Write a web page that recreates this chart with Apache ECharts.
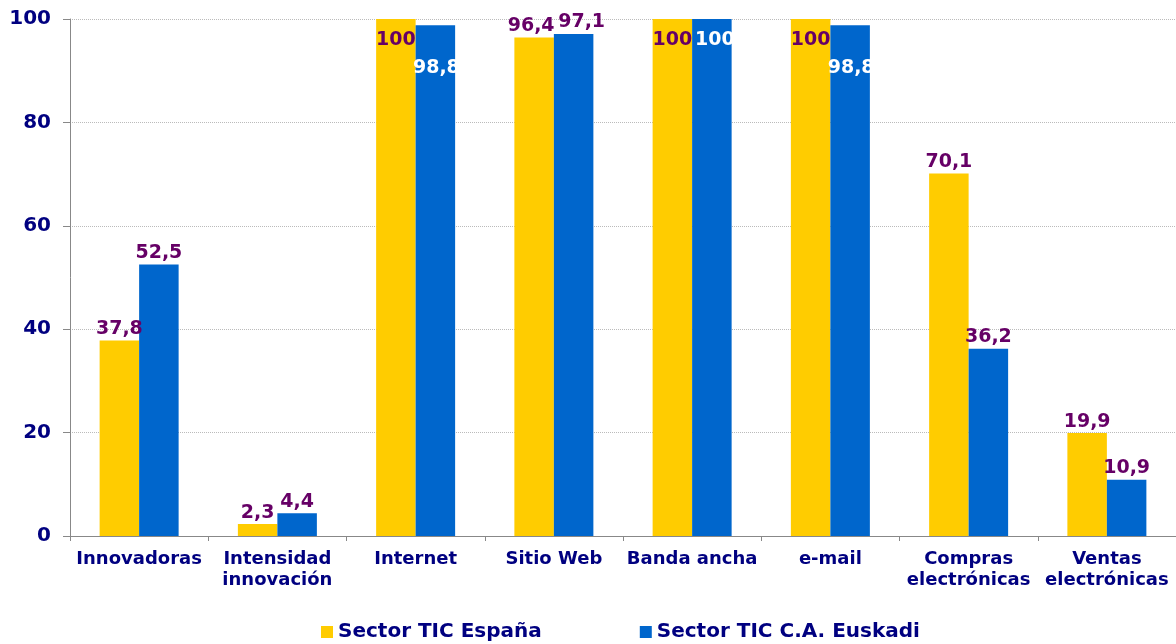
<!DOCTYPE html>
<html><head><meta charset="utf-8">
<script src="https://cdn.jsdelivr.net/npm/echarts@6/dist/echarts.min.js"></script>
<style>html,body{margin:0;padding:0;background:#fff}#c{width:1176px;height:644px}</style>
</head><body><div id="c"></div>
<script>
const categories = ['Innovadoras','Intensidad\ninnovación','Internet','Sitio Web','Banda ancha','e-mail','Compras\nelectrónicas','Ventas\nelectrónicas'];
const seriesNames = ['Sector TIC España','Sector TIC C.A. Euskadi'];
const espana = [37.8, 2.3, 100, 96.4, 100, 100, 70.1, 19.9];
const euskadi = [52.5, 4.4, 98.8, 97.1, 100, 98.8, 36.2, 10.9];
const yTicks = [0, 20, 40, 60, 80, 100];

const FONT = 'DejaVu Sans';
const PURPLE = '#660066';
const NAVY = '#000080';
const fmt = v => String(v).replace('.', ',');

function labelFor(seriesIdx, v, i) {
  const base = {show: true, fontFamily: FONT, fontWeight: 'bold', fontSize: 19, formatter: p => fmt(p.value)};
  if (v >= 98) {
    if (seriesIdx === 0) return Object.assign(base, {position: 'insideTop', distance: 12, color: PURPLE});
    if (v >= 100) return Object.assign(base, {position: 'insideTop', distance: 12, color: '#ffffff', offset: [3, 0]});
    return Object.assign(base, {position: 'insideTop', distance: 33, color: '#ffffff', offset: [1, 0]});
  }
  const l = Object.assign(base, {position: 'top', distance: 2, color: PURPLE});
  if (seriesIdx === 1 && espana[i] > 90) l.offset = [8, 0];
  if (seriesIdx === 0 && euskadi[i] > 90) l.offset = [-3, 0];
  return l;
}

const chart = echarts.init(document.getElementById('c'), null, {renderer: 'canvas'});
chart.setOption({
  animation: false,
  grid: {left: 70, right: -4, top: 19, bottom: 108, containLabel: false},
  legend: {
    bottom: -3, left: 316, itemWidth: 12, itemHeight: 12, itemGap: 98, itemTextGap: 5, icon: 'rect',
    textStyle: {fontFamily: FONT, fontWeight: 'bold', fontSize: 20, color: NAVY},
    data: seriesNames
  },
  xAxis: {
    type: 'category', data: categories,
    axisLine: {lineStyle: {color: '#888', width: 1}},
    axisTick: {show: true, length: 5, lineStyle: {color: '#888'}},
    axisLabel: {fontFamily: FONT, fontWeight: 'bold', fontSize: 18, color: NAVY, margin: 13, lineHeight: 21, interval: 0}
  },
  yAxis: {
    type: 'value', min: yTicks[0], max: yTicks[yTicks.length - 1], interval: 20,
    axisLine: {show: true, lineStyle: {color: '#888'}},
    axisTick: {show: true, length: 7, lineStyle: {color: '#888'}},
    axisLabel: {fontFamily: FONT, fontWeight: 'bold', fontSize: 20, color: NAVY, margin: 19},
    splitLine: {show: true, lineStyle: {color: '#bbb', type: 'dotted', width: 1}}
  },
  series: [
    {name: seriesNames[0], type: 'bar', barWidth: 39.5, barGap: '0%', itemStyle: {color: '#FFCC00'},
     data: espana.map((v, i) => ({value: v, label: labelFor(0, v, i)}))},
    {name: seriesNames[1], type: 'bar', barWidth: 39.5, barGap: '0%', itemStyle: {color: '#0066CC'},
     data: euskadi.map((v, i) => ({value: v, label: labelFor(1, v, i)}))}
  ]
});
</script></body></html>
